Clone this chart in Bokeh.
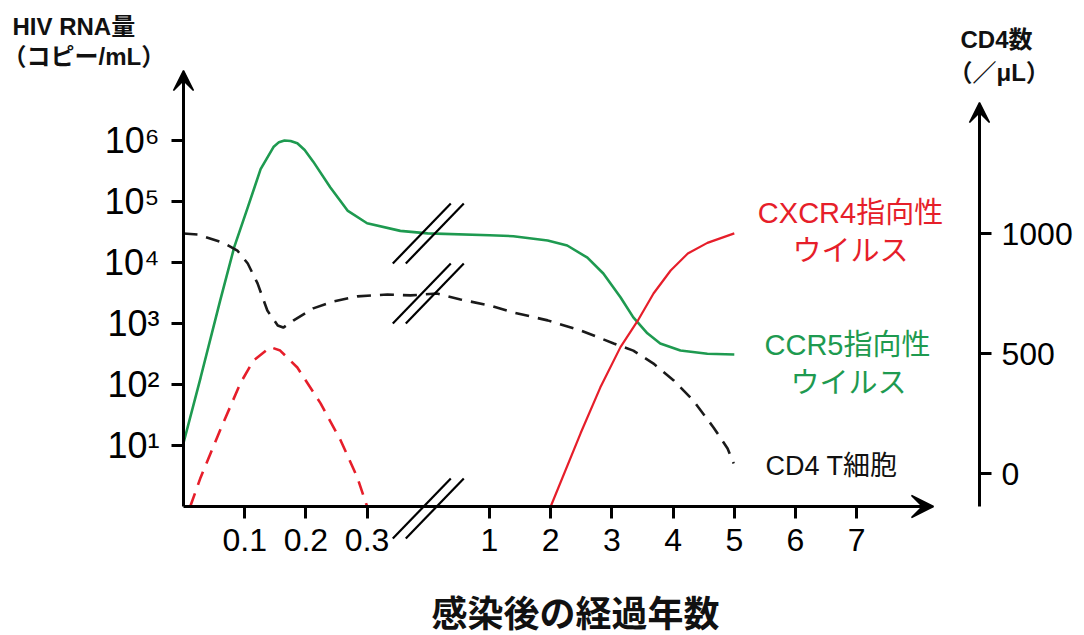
import numpy as np
from bokeh.plotting import figure
from bokeh.models import Range1d, LinearAxis, LinearScale, FixedTicker, Arrow, VeeHead, Label
from bokeh.embed import file_html
from bokeh.resources import INLINE

# ---------------- data ----------------
# x tick positions (years after infection) and labels
x_tick_years = [0.1, 0.2, 0.3, 1, 2, 3, 4, 5, 6, 7]
x_tick_labels = ["0.1", "0.2", "0.3", "1", "2", "3", "4", "5", "6", "7"]
# left axis (HIV RNA copies/mL, log)
rna_ticks = [10, 100, 1000, 10000, 100000, 1000000]
rna_tick_labels = ["10¹", "10²", "10³", "10⁴", "10⁵", "10⁶"]
# right axis (CD4 cells/uL)
cd4_ticks = [0, 500, 1000]

# CCR5-tropic virus (green, solid)
ccr5_t = [0.0, 0.028, 0.06, 0.083, 0.105, 0.126, 0.147, 0.156, 0.165, 0.175, 0.186, 0.198,
          0.212, 0.24, 0.268, 0.30, 0.49, 0.646, 1.0, 1.39, 1.95, 2.27, 2.60, 2.86, 3.14,
          3.35, 3.58, 3.79, 4.12, 4.56, 5.0]
ccr5_rna = [11, 130, 2400, 18000, 80000, 340000, 780000, 940000, 1000000, 980000, 900000, 700000,
            450000, 170000, 71000, 44000, 33000, 30000, 28000, 27000, 23000, 19000, 12000, 6600,
            2700, 1260, 690, 470, 360, 320, 310]

# CXCR4-tropic virus, early phase (red, dashed)
cxcr4_early_t = [0.011, 0.028, 0.06, 0.093, 0.114, 0.142, 0.158, 0.186, 0.224, 0.257, 0.284, 0.30]
cxcr4_early_rna = [1, 3, 18, 105, 245, 410, 360, 190, 49, 12, 3, 1]

# CXCR4-tropic virus, late phase (red, solid)
cxcr4_late_t = [2.0, 2.49, 2.81, 3.14, 3.42, 3.68, 3.96, 4.24, 4.56, 5.0]
cxcr4_late_rna = [1, 16, 89, 410, 1100, 3100, 7400, 14000, 21000, 30000]

# CD4 T cells (black, dashed) on right axis
cd4_t = [0.0, 0.023, 0.065, 0.088, 0.105, 0.121, 0.137, 0.154, 0.163, 0.180, 0.212, 0.245,
         0.284, 0.416, 0.548, 0.70, 0.834, 1.0, 1.39, 1.95, 2.49, 3.03, 3.35, 3.68, 4.01,
         4.33, 4.66, 4.89, 4.99]
cd4_count = [1000, 996, 962, 929, 875, 792, 679, 617, 608, 638, 688, 717,
             738, 746, 742, 750, 725, 700, 671, 638, 596, 542, 512, 458, 388,
             304, 192, 104, 42]

# axis-break location (years) and the CD4-scale levels where break marks sit
break_year = 0.65
break_levels = [1000, 750]


# ---------------- broken time axis ----------------
def to_u(t):
    """map years onto the broken axis: 0-0.3 y stretched, 0.3-1 y compressed, >=1 linear"""
    if t <= 0.3:
        return round(t * 10, 6)
    if t >= 1:
        return round(t + 4, 6)
    return round(3 + (t - 0.3) / 0.35, 6)


def conv(ts):
    return [to_u(t) for t in ts]


GREEN = "#1e9a50"
RED = "#e61e2a"
BLACK = "#1a1a1a"

W, H = 1076, 635
X0_PX = 183          # pixel of the left axis (t = 0)
PX_PER_U = 61.2
Y0_PX = 506          # pixel of the x axis (1 copy/mL)
PX_PER_DEC = 61.0
CD4_ZERO_PX = 473
PX_PER_CELL = 0.24


def ux(px):
    return (px - X0_PX) / PX_PER_U


def ly(py):
    return 10 ** ((Y0_PX - py) / PX_PER_DEC)


def wy(py):
    return (CD4_ZERO_PX - py) / PX_PER_CELL


p = figure(width=W, height=H, output_backend="svg", toolbar_location=None, title=None,
           y_axis_type="log",
           x_range=Range1d(ux(0), ux(W)), y_range=Range1d(ly(H), ly(0)),
           min_border_left=0, min_border_top=0, min_border_right=0, min_border_bottom=0)
p.extra_y_ranges = {"cd4": Range1d(wy(H), wy(0))}
p.extra_y_scales = {"cd4": LinearScale()}
p.outline_line_color = None
p.xgrid.visible = False
p.ygrid.visible = False
p.background_fill_color = "white"
p.border_fill_color = "white"

TICK_FONT = "Liberation Sans"
CJK = "Liberation Sans, Noto Sans CJK JP"

X_RIGHT_AXIS = ux(979)

# bottom axis (placed at 1 copy/mL)
xa = p.xaxis[0]
xa.fixed_location = 1
xa.ticker = FixedTicker(ticks=[to_u(t) for t in x_tick_years])
xa.major_label_overrides = {to_u(t): lab for t, lab in zip(x_tick_years, x_tick_labels)}
xa.minor_tick_line_color = None
xa.axis_line_color = None
xa.major_tick_line_width = 3
xa.major_tick_line_color = "black"
xa.major_tick_out = 12
xa.major_tick_in = 0
xa.major_label_text_font = TICK_FONT
xa.major_label_text_font_size = "32px"
xa.major_label_text_color = "black"
xa.major_label_standoff = 10

# left axis (placed at t = 0)
ya = p.yaxis[0]
ya.fixed_location = 0
ya.ticker = FixedTicker(ticks=rna_ticks)
ya.major_label_overrides = {v: lab for v, lab in zip(rna_ticks, rna_tick_labels)}
ya.minor_tick_line_color = None
ya.axis_line_color = None
ya.major_tick_line_width = 3
ya.major_tick_out = 12
ya.major_tick_in = 0
ya.major_label_text_font = TICK_FONT
ya.major_label_text_font_size = "36px"
ya.major_label_text_color = "black"
ya.major_label_standoff = 12

# right axis (CD4)
ra = LinearAxis(y_range_name="cd4", ticker=FixedTicker(ticks=cd4_ticks))
ra.fixed_location = X_RIGHT_AXIS
ra.axis_line_color = None
ra.minor_tick_line_color = None
ra.major_tick_line_width = 3
ra.major_tick_out = 12
ra.major_tick_in = 0
ra.major_label_text_font = TICK_FONT
ra.major_label_text_font_size = "32px"
ra.major_label_text_color = "black"
ra.major_label_standoff = 10
p.add_layout(ra, "right")

# axis lines with arrow heads
def head(sz):
    return VeeHead(size=sz, fill_color="black", line_color="black", line_width=1.5)

p.add_layout(Arrow(end=head(20), x_start=0, y_start=1, x_end=0, y_end=ly(70),
                   line_width=3, line_color="black"))
p.add_layout(Arrow(end=head(22), x_start=0, y_start=1, x_end=ux(933), y_end=1,
                   line_width=3, line_color="black"))
p.add_layout(Arrow(end=head(20), x_start=X_RIGHT_AXIS, y_start=wy(506), x_end=X_RIGHT_AXIS,
                   y_end=wy(102), y_range_name="cd4", line_width=3, line_color="black"))

# curves
p.line(conv(ccr5_t), ccr5_rna, line_color=GREEN, line_width=2.6)
p.line(conv(cxcr4_early_t), cxcr4_early_rna, line_color=RED, line_width=2.6, line_dash="14 9")
p.line(conv(cxcr4_late_t), cxcr4_late_rna, line_color=RED, line_width=2.2)
p.line(conv(cd4_t), cd4_count, line_color=BLACK, line_width=2.6, line_dash="14 9",
       y_range_name="cd4")

# break marks (double slashes) on the two curves and on the time axis
HALF_DX = 29 / PX_PER_U
HALF_DY = 30 / PX_PER_CELL
GAP = 13 / PX_PER_U
bu = to_u(break_year)
for lvl in break_levels + [wy(Y0_PX + 2)]:
    for off in (-GAP / 2, GAP / 2):
        p.add_layout(Arrow(end=None, start=None,
                           x_start=bu + off - HALF_DX, y_start=lvl - HALF_DY,
                           x_end=bu + off + HALF_DX, y_end=lvl + HALF_DY,
                           y_range_name="cd4", line_width=2.2, line_color="black"))

# text labels (positions in pixels -> data units on the CD4 scale)
def lab(text, px, py, size, color="black", align="left", bold=False):
    p.add_layout(Label(x=ux(px), y=wy(py), y_range_name="cd4", text=text,
                       text_font=CJK, text_font_size=size, text_color=color,
                       text_align=align, text_baseline="middle",
                       text_font_style="bold" if bold else "normal"))

lab("HIV RNA量", 12, 26, "24px", "#111111", bold=True)
lab("（コピー/mL）", 2, 56, "24px", "#111111", bold=True)
lab("CD4数", 960, 39, "24px", "#111111", bold=True)
lab("（／μL）", 948, 72, "24px", "#111111", bold=True)
lab("CXCR4指向性", 850, 212, "29px", RED, align="center")
lab("ウイルス", 850, 250, "29px", RED, align="center")
lab("CCR5指向性", 847, 344, "29px", GREEN, align="center")
lab("ウイルス", 848, 382, "29px", GREEN, align="center")
lab("CD4 T細胞", 765, 465, "27px", "#111111")
lab("感染後の経過年数", 575, 614, "36px", "#111111", align="center", bold=True)

open("out.html", "w").write(file_html(p, INLINE))
